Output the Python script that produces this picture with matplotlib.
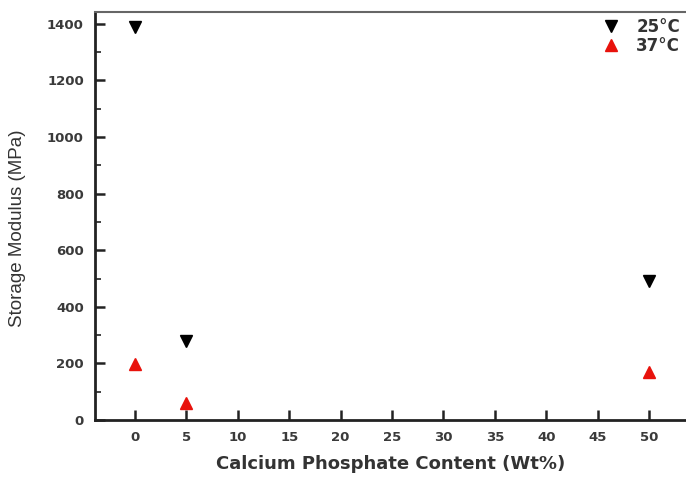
import matplotlib
matplotlib.use("Agg")
import matplotlib.pyplot as plt
from matplotlib.ticker import MultipleLocator

x_wt = [0, 5, 50]
mod_25 = [1388, 280, 490]
mod_37 = [198, 60, 170]
xticks = [0, 5, 10, 15, 20, 25, 30, 35, 40, 45, 50]
yticks = [0, 200, 400, 600, 800, 1000, 1200, 1400]

plt.rcParams['font.family'] = ['DejaVu Sans']
fig = plt.figure(figsize=(6.86, 4.8), dpi=100)
ax = fig.add_axes([95/686, 1-420/480, 1-95/686, 408/480])

ax.plot(x_wt, mod_25, linestyle='none', marker='v', color='black', markersize=9, label='25°C')
ax.plot(x_wt, mod_37, linestyle='none', marker='^', color='#e8120c', markersize=8, label='37°C')

ax.set_xlim(-3.9, 53.6)
ax.set_ylim(0, 1442)
ax.set_xticks(xticks)
ax.set_yticks(yticks)
ax.yaxis.set_minor_locator(MultipleLocator(100))
ax.tick_params(axis='both', which='major', direction='in', length=7, width=1.8, color='#222222',
               labelsize=9.5, labelcolor='#3a3a3a', pad=8)
ax.tick_params(axis='y', which='minor', direction='in', length=4, width=1.2, color='#222222')
for lab in ax.get_xticklabels() + ax.get_yticklabels():
    lab.set_fontweight('bold')
for s in ['left', 'bottom', 'top']:
    ax.spines[s].set_linewidth(2)
    ax.spines[s].set_color('#222222')
ax.spines['top'].set_color('#666666')
ax.spines['top'].set_linewidth(1.5)
ax.spines['right'].set_visible(False)

ax.set_xlabel('Calcium Phosphate Content (Wt%)', fontsize=13, fontweight='bold', color='#333333', labelpad=8)
ax.set_ylabel('Storage Modulus (MPa)', fontsize=13.5, color='#333333',
              family=['Liberation Sans', 'DejaVu Sans'])
ax.yaxis.set_label_coords((17 - 95) / 591, (420 - 228) / 408)
ax.yaxis.label.set_verticalalignment('center')

leg = ax.legend(loc='upper right', frameon=False, prop={'size': 12, 'weight': 'bold'},
                handletextpad=0.9, borderaxespad=0.05, labelspacing=0.05, handlelength=1.2,
                borderpad=0.3)
for t in leg.get_texts():
    t.set_color('#333333')

fig.savefig('out.png', dpi=100, facecolor='white')
